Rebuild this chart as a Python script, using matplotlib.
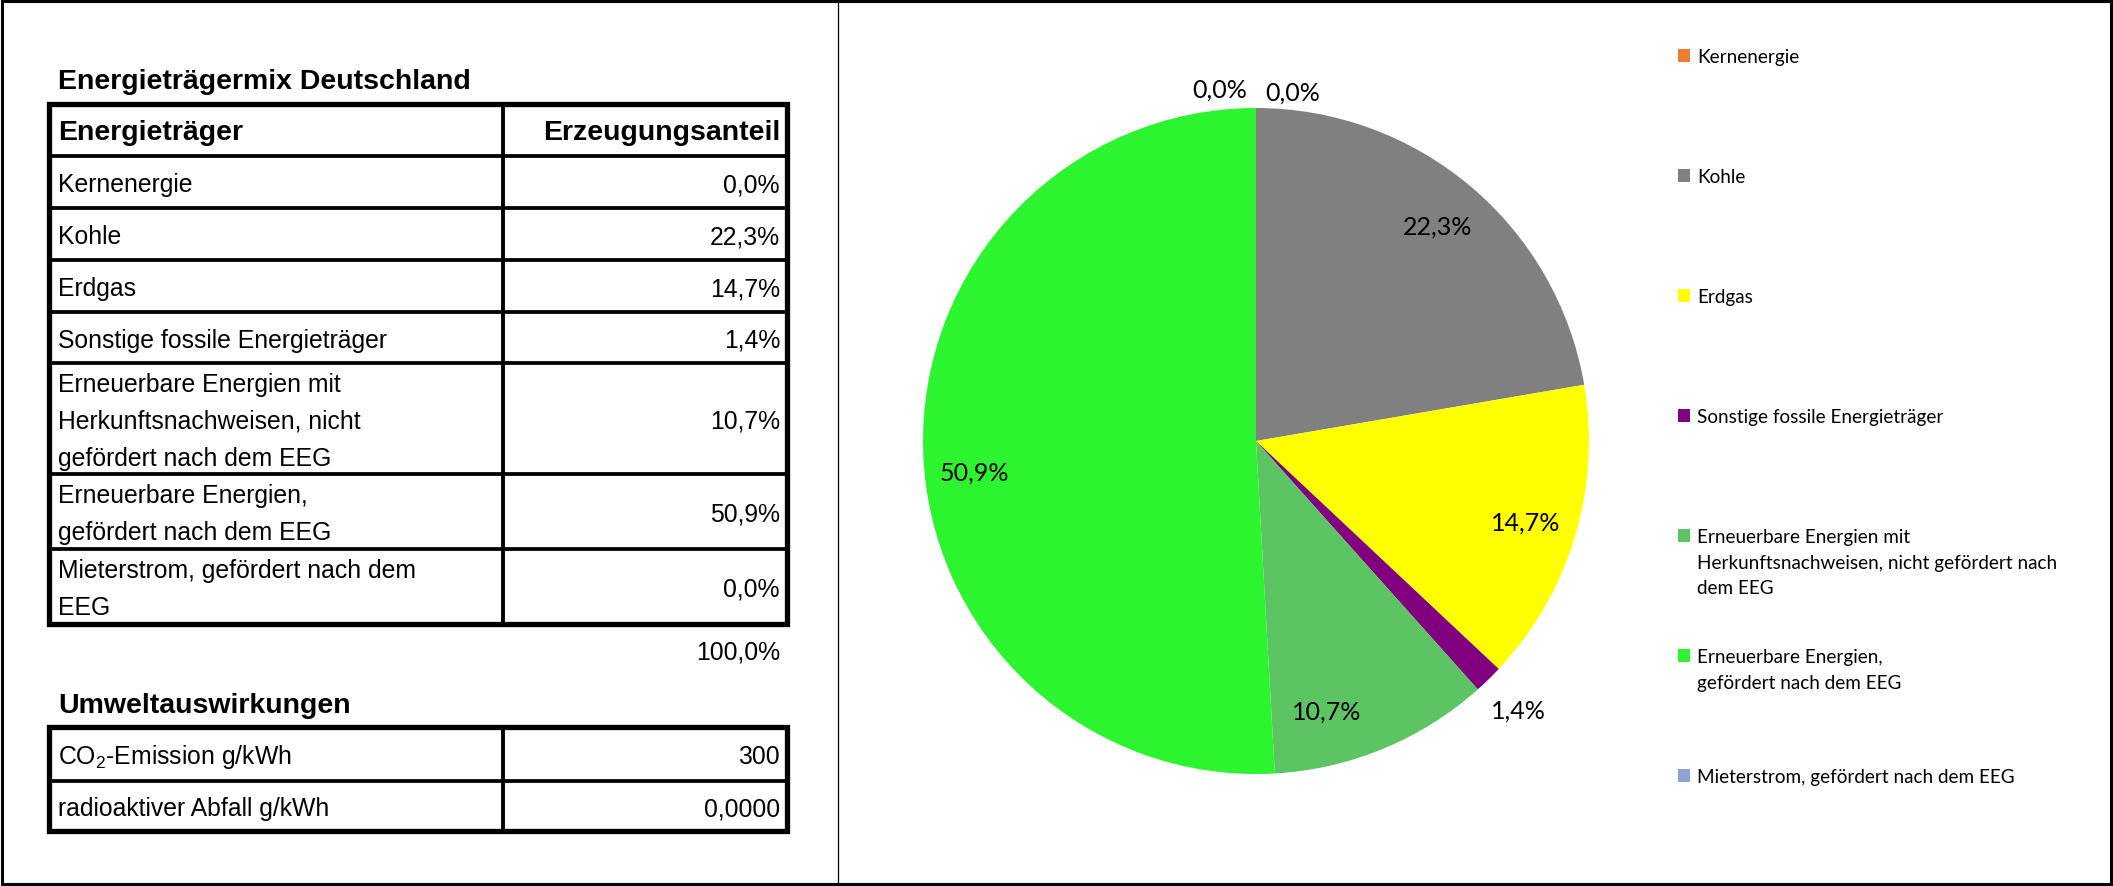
import numpy as np
import matplotlib
matplotlib.use('Agg')
import matplotlib.pyplot as plt
from matplotlib.patches import Rectangle

plt.rcParams['mathtext.fontset'] = 'custom'
plt.rcParams['mathtext.rm'] = 'Liberation Sans'
plt.rcParams['mathtext.it'] = 'Liberation Sans:italic'

# data
table_labels = ['Kernenergie', 'Kohle', 'Erdgas', 'Sonstige fossile Energieträger',
                'Erneuerbare Energien mit\nHerkunftsnachweisen, nicht\ngefördert nach dem EEG',
                'Erneuerbare Energien,\ngefördert nach dem EEG',
                'Mieterstrom, gefördert nach dem\nEEG']
legend_labels = ['Kernenergie', 'Kohle', 'Erdgas', 'Sonstige fossile Energieträger',
                 'Erneuerbare Energien mit\nHerkunftsnachweisen, nicht gefördert nach\ndem EEG',
                 'Erneuerbare Energien,\ngefördert nach dem EEG',
                 'Mieterstrom, gefördert nach dem EEG']
shares = [0.0, 22.3, 14.7, 1.4, 10.7, 50.9, 0.0]
colors = ['#ED7D31', '#808080', '#FFFF00', '#800080', '#5CC463', '#2CF52F', '#8FA3D3']

impact_labels = ['CO$_2$-Emission g/kWh', 'radioaktiver Abfall g/kWh']
co2 = 300
waste = 0.0


def de(v, nd=1):
    return f'{v:.{nd}f}'.replace('.', ',')


W, H = 2113, 887
fig = plt.figure(figsize=(W / 100, H / 100), dpi=100)
bg = fig.add_axes([0, 0, 1, 1])
bg.set_xlim(0, W)
bg.set_ylim(H, 0)
bg.axis('off')

# outer frame and divider
bg.add_patch(Rectangle((2, 2), W - 4, H - 4, fill=False, lw=2.2, ec='black'))
bg.plot([838, 838], [2, H - 2], color='black', lw=0.9)

tf = 'Liberation Sans'
fs = 17.8
fsb = 20.5
x0, xm, x1 = 49, 503, 787
tx, vx = 58, 780
cap = 9.4

# energy mix table
bg.text(tx, 89, 'Energieträgermix Deutschland', fontsize=fsb, fontweight='bold', family=tf, va='baseline')
edges = [105, 157, 209, 261, 313, 364, 475, 550, 625]
for y in edges[1:-1]:
    bg.plot([x0, x1], [y, y], color='black', lw=2.7, solid_capstyle='butt')
bg.plot([xm, xm], [edges[0], edges[-1]], color='black', lw=2.8, solid_capstyle='butt')
bg.add_patch(Rectangle((x0, edges[0]), x1 - x0, edges[-1] - edges[0], fill=False, lw=3.8, ec='black'))

yc = (edges[0] + edges[1]) / 2
bg.text(tx, yc + cap, 'Energieträger', fontsize=fsb, fontweight='bold', family=tf, va='baseline')
bg.text(vx, yc + cap, 'Erzeugungsanteil', fontsize=fsb, fontweight='bold', family=tf, va='baseline', ha='right')

for i, (lab, v) in enumerate(zip(table_labels, shares)):
    yc = (edges[i + 1] + edges[i + 2]) / 2
    lines = lab.split('\n')
    for j, ln in enumerate(lines):
        yl = yc + (j - (len(lines) - 1) / 2) * 37 + cap
        bg.text(tx, yl, ln, fontsize=fs, family=tf, va='baseline')
    bg.text(vx, yc + cap, de(v) + '%', fontsize=fs, family=tf, va='baseline', ha='right')

bg.text(vx, 660, de(sum(shares)) + '%', fontsize=fs, family=tf, va='baseline', ha='right')

# environmental impact table
bg.text(tx, 713, 'Umweltauswirkungen', fontsize=fsb, fontweight='bold', family=tf, va='baseline')
edges2 = [728, 782, 832]
bg.plot([x0, x1], [edges2[1], edges2[1]], color='black', lw=2.7, solid_capstyle='butt')
bg.plot([xm, xm], [edges2[0], edges2[-1]], color='black', lw=2.8, solid_capstyle='butt')
bg.add_patch(Rectangle((x0, edges2[0]), x1 - x0, edges2[-1] - edges2[0], fill=False, lw=3.8, ec='black'))
for i, (lab, v) in enumerate(zip(impact_labels, [str(co2), de(waste, 4)])):
    yc = (edges2[i] + edges2[i + 1]) / 2
    bg.text(tx, yc + cap, lab, fontsize=fs, family=tf, va='baseline')
    bg.text(vx, yc + cap, v, fontsize=fs, family=tf, va='baseline', ha='right')

# pie
cx, cy, r = 1256, 442, 333
lim = 1.3
side = 2 * lim * r
ax = fig.add_axes([(cx - side / 2) / W, (H - cy - side / 2) / H, side / W, side / H])
wedges = ax.pie(shares, colors=colors, startangle=90, counterclock=False,
                wedgeprops=dict(linewidth=0))[0]
ax.set_xlim(-lim, lim)
ax.set_ylim(-lim, lim)
ax.axis('off')

nudge = {0: (0.11, -0.082), 4: (-0.11, -0.03), 5: (0.0, -0.07), 6: (-0.11, -0.074)}
pf = 'Lato'
for i, (w, v) in enumerate(zip(wedges, shares)):
    mid = np.deg2rad((w.theta1 + w.theta2) / 2)
    rr = 0.845 if v >= 5 else 1.13
    dx, dy = nudge.get(i, (0, 0))
    ax.text(rr * np.cos(mid) + dx, rr * np.sin(mid) + dy, de(v) + '%', fontsize=18,
            family=pf, ha='center', va='center', clip_on=False)

# legend
lx = 1678
for i, (lab, c) in enumerate(zip(legend_labels, colors)):
    base = 63 + 120 * i
    bg.add_patch(Rectangle((lx, base - 13), 12, 13, color=c, lw=0))
    for j, ln in enumerate(lab.split('\n')):
        bg.text(lx + 19, base + j * 25.7, ln, fontsize=13.6, family=pf, va='baseline')

fig.savefig('out.png', dpi=100)
